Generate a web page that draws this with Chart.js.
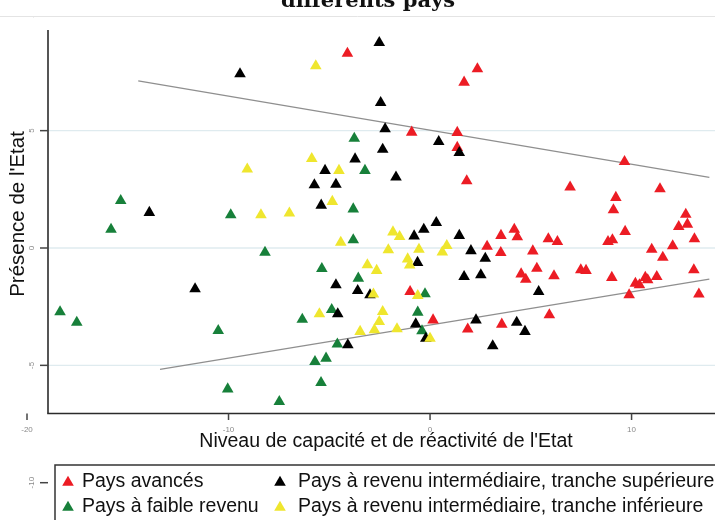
<!DOCTYPE html>
<html>
<head>
<meta charset="utf-8">
<script src="https://cdn.jsdelivr.net/npm/chart.js@4.4.1/dist/chart.umd.min.js"></script>
<style>
  html, body { margin: 0; padding: 0; background: #fff; overflow: hidden; }
  #wrap { position: relative; width: 715px; height: 520px; }
  canvas { display: block; }
</style>
</head>
<body>
<div id="wrap"><canvas id="myChart"></canvas></div>
<script>
// axis ticks
const xTicks = [-20, -10, 0, 10];
const yTicks = [10, 5, 0, -5, -10];
const gridValues = [5, 0, -5];

// Pays avancés
const avancesX = [-4.10, 2.35, 1.69, -0.91, 1.35, 1.35, 9.65, 1.82, 6.95, 11.41,
  9.22, 9.10, 12.69, 12.34, 12.77, 3.52, 4.18, 4.33, 5.87, 6.32,
  9.68, 8.83, 9.05, 13.12, 2.83, 3.51, 5.10, 11.00, 12.04, 11.55,
  4.52, 4.75, 5.30, 6.15, 7.48, 7.74, 9.02, 10.19, 10.39, 10.68,
  10.80, 11.25, 13.09, 9.88, 13.34, 5.92, 1.87, 3.56, 0.15, -0.99];
const avancesY = [8.29, 7.63, 7.06, 4.93, 4.92, 4.28, 3.68, 2.86, 2.59, 2.52,
  2.15, 1.62, 1.43, 0.91, 1.01, 0.53, 0.79, 0.47, 0.39, 0.27,
  0.70, 0.27, 0.34, 0.39, 0.07, -0.20, -0.13, -0.06, 0.09, -0.40,
  -1.11, -1.34, -0.87, -1.19, -0.93, -0.96, -1.26, -1.51, -1.57, -1.26,
  -1.36, -1.22, -0.93, -2.00, -1.97, -2.85, -3.46, -3.25, -3.07, -1.86];

// Pays à revenu intermédiaire, tranche supérieure
const superieureX = [-2.52, -9.43, -2.45, -2.23, 0.43, -2.35, 1.45, -3.72, -5.21, -1.69,
  -5.74, -4.67, -5.40, -13.93, 0.31, -0.31, -0.79, 1.45, 2.03, 2.74,
  -0.62, 1.69, 2.52, -11.66, -4.67, -3.59, -2.98, 5.39, -4.58, -0.71,
  2.28, 4.30, 4.71, -0.21, 3.11, -4.08];
const superieureY = [8.75, 7.42, 6.19, 5.07, 4.53, 4.20, 4.06, 3.79, 3.30, 3.02,
  2.69, 2.71, 1.82, 1.51, 1.08, 0.79, 0.51, 0.53, -0.12, -0.44,
  -0.62, -1.22, -1.15, -1.74, -1.57, -1.82, -2.00, -1.86, -2.81, -3.24,
  -3.07, -3.17, -3.56, -3.85, -4.17, -4.13];

// Pays à faible revenu
const faibleX = [-3.76, -3.23, -15.35, -9.89, -15.83, -3.81, -3.81, -8.19, -5.37, -3.56,
  -0.25, -18.36, -17.53, -10.51, -6.34, -4.88, -0.61, -0.40, -4.60, -5.71,
  -5.16, -5.41, -10.04, -7.48];
const faibleY = [4.67, 3.30, 2.02, 1.41, 0.79, 1.66, 0.34, -0.19, -0.88, -1.29,
  -1.96, -2.72, -3.17, -3.52, -3.04, -2.63, -2.74, -3.53, -4.10, -4.84,
  -4.70, -5.74, -6.01, -6.55];

// Pays à revenu intermédiaire, tranche inférieure
const inferieureX = [-5.67, -5.87, -9.07, -4.52, -4.85, -8.39, -6.98, -1.84, -1.51, -4.43,
  -2.07, -0.55, 0.83, 0.61, -1.11, -1.01, -3.11, -2.65, -2.81, -0.61,
  -5.49, -2.35, -2.52, -3.47, -2.76, -1.64, 0.00];
const inferieureY = [7.76, 3.81, 3.36, 3.30, 1.98, 1.41, 1.48, 0.68, 0.48, 0.24,
  -0.08, -0.06, 0.10, -0.18, -0.47, -0.73, -0.72, -0.96, -1.97, -2.03,
  -2.81, -2.71, -3.14, -3.56, -3.49, -3.45, -3.85];

// droites d'ajustement (extrémités)
const fitHautX = [-14.48, 13.86];
const fitHautY = [7.12, 3.01];
const fitBasX = [-13.40, 13.86];
const fitBasY = [-5.17, -1.33];

const RED = '#ec1c24';
const GREEN = '#17803a';
const BLACK = '#000000';
const YELLOW = '#efe62e';
const MARK = 6.7;

function toPoints(xs, ys) {
  return xs.map((x, i) => ({ x: x, y: ys[i] }));
}

function scatterSet(label, xs, ys, color, order) {
  return {
    type: 'scatter',
    label: label,
    data: toPoints(xs, ys),
    pointStyle: 'triangle',
    pointRadius: MARK,
    pointHoverRadius: MARK,
    backgroundColor: color,
    borderColor: color,
    borderWidth: 0,
    order: order,
  };
}

function fitSet(xs, ys) {
  return {
    type: 'line',
    data: toPoints(xs, ys),
    borderColor: '#8f8f8f',
    borderWidth: 1.3,
    pointRadius: 0,
    fill: false,
    order: 10,
  };
}

const legendItems = [
  { text: 'Pays avancés', color: RED, x: 68, tx: 82, y: 482 },
  { text: 'Pays à revenu intermédiaire, tranche supérieure', color: BLACK, x: 280, tx: 298, y: 482 },
  { text: 'Pays à faible revenu', color: GREEN, x: 68, tx: 82, y: 507 },
  { text: 'Pays à revenu intermédiaire, tranche inférieure', color: YELLOW, x: 280, tx: 298, y: 507 },
];

function tri(ctx, x, y, r, color) {
  ctx.fillStyle = color;
  ctx.beginPath();
  ctx.moveTo(x, y - r);
  ctx.lineTo(x + r * 0.866, y + r * 0.5);
  ctx.lineTo(x - r * 0.866, y + r * 0.5);
  ctx.closePath();
  ctx.fill();
}

function seg(ctx, x1, y1, x2, y2) {
  ctx.beginPath();
  ctx.moveTo(x1, y1);
  ctx.lineTo(x2, y2);
  ctx.stroke();
}

const stataLook = {
  id: 'stataLook',
  beforeDatasetsDraw(chart) {
    const ctx = chart.ctx;
    const xs = chart.scales.x, ys = chart.scales.y;
    const frameLeft = 48, frameTop = 30, frameBottom = 413.5;
    ctx.save();
    ctx.fillStyle = '#fff';
    ctx.fillRect(0, 0, chart.width, chart.height);

    // grid
    ctx.strokeStyle = '#dfebef';
    ctx.lineWidth = 1.4;
    gridValues.forEach(v => {
      const py = ys.getPixelForValue(v);
      seg(ctx, frameLeft, py, chart.width, py);
    });

    // frame
    ctx.strokeStyle = '#2b2b2b';
    ctx.lineWidth = 1.6;
    seg(ctx, frameLeft, frameTop, frameLeft, frameBottom);
    seg(ctx, frameLeft - 0.8, frameBottom, chart.width, frameBottom);

    // y ticks
    ctx.font = '8px "Liberation Sans", Arial, sans-serif';
    ctx.textAlign = 'center';
    ctx.textBaseline = 'middle';
    yTicks.forEach(v => {
      const py = ys.getPixelForValue(v);
      ctx.strokeStyle = '#444';
      ctx.lineWidth = 1.5;
      seg(ctx, 40, py, 48, py);
      ctx.save();
      ctx.translate(32, py);
      ctx.rotate(-Math.PI / 2);
      ctx.fillStyle = '#8a8a8a';
      ctx.fillText(String(v), 0, 0);
      ctx.restore();
    });

    // x ticks
    xTicks.forEach(v => {
      const px = xs.getPixelForValue(v);
      ctx.strokeStyle = '#444';
      ctx.lineWidth = 1.5;
      seg(ctx, px, frameBottom, px, frameBottom + 6.5);
      ctx.fillStyle = '#8a8a8a';
      ctx.fillText(String(v), px, 430);
    });

    // axis titles
    ctx.fillStyle = '#111';
    ctx.font = '19.5px "Liberation Sans", Arial, sans-serif';
    ctx.fillText("Niveau de capacité et de réactivité de l'Etat", 386, 442);
    ctx.save();
    ctx.translate(18, 214);
    ctx.rotate(-Math.PI / 2);
    ctx.font = '20.5px "Liberation Sans", Arial, sans-serif';
    ctx.fillText("Présence de l'Etat", 0, 0);
    ctx.restore();
    ctx.restore();
  },
  afterDraw(chart) {
    const ctx = chart.ctx;
    ctx.save();
    // legend
    ctx.strokeStyle = '#333';
    ctx.lineWidth = 1.5;
    ctx.strokeRect(55, 465, chart.width + 10, 80);
    ctx.font = '19.5px "Liberation Sans", Arial, sans-serif';
    ctx.textAlign = 'left';
    ctx.textBaseline = 'middle';
    legendItems.forEach(it => {
      tri(ctx, it.x, it.y + 0.5, MARK, it.color);
      ctx.fillStyle = '#111';
      ctx.fillText(it.text, it.tx, it.y);
    });

    // title band (cut off at the top)
    ctx.fillStyle = '#fff';
    ctx.fillRect(0, 0, chart.width, 16);
    ctx.strokeStyle = '#e4e4e4';
    ctx.lineWidth = 1;
    seg(ctx, 0, 16.5, chart.width, 16.5);
    ctx.fillStyle = '#111';
    ctx.font = 'bold 21px "DejaVu Serif", serif';
    ctx.textAlign = 'center';
    ctx.textBaseline = 'alphabetic';
    ctx.fillText('différents pays', 368, 6.5);
    ctx.restore();
  }
};

const config = {
  data: {
    datasets: [
      scatterSet('Pays à revenu intermédiaire, tranche inférieure', inferieureX, inferieureY, YELLOW, 0),
      scatterSet('Pays à revenu intermédiaire, tranche supérieure', superieureX, superieureY, BLACK, 1),
      scatterSet('Pays à faible revenu', faibleX, faibleY, GREEN, 2),
      scatterSet('Pays avancés', avancesX, avancesY, RED, 3),
      fitSet(fitHautX, fitHautY),
      fitSet(fitBasX, fitBasY),
    ]
  },
  options: {
    responsive: true,
    maintainAspectRatio: false,
    animation: false,
    layout: { autoPadding: false, padding: { left: 27, right: 0, top: 13.3, bottom: 37.3 } },
    scales: {
      x: { type: 'linear', min: -20, max: 14.14, display: false },
      y: { type: 'linear', min: -10, max: 10, display: false },
    },
    plugins: {
      legend: { display: false },
      tooltip: { enabled: false },
    },
    clip: false,
  },
  plugins: [stataLook],
};

const myChart = new Chart(document.getElementById('myChart'), config);
</script>
</body>
</html>
